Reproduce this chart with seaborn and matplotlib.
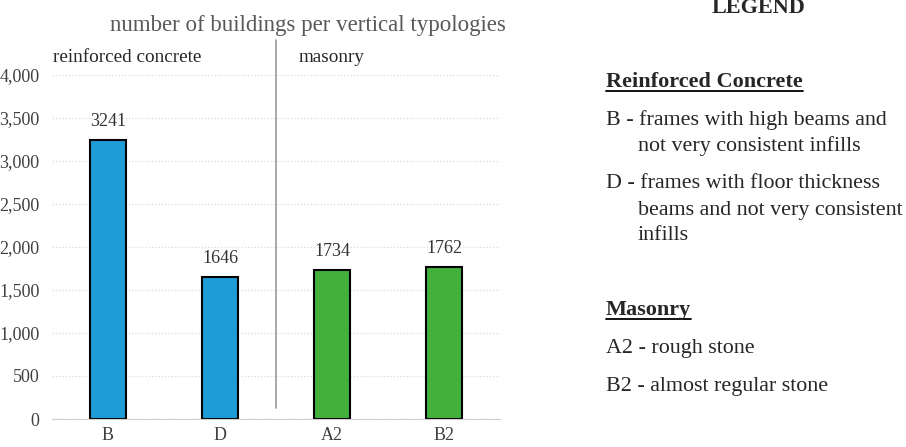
import seaborn as sns
import matplotlib.pyplot as plt
import pandas as pd

# Data
categories = ["B", "D", "A2", "B2"]
counts = [3241, 1646, 1734, 1762]
groups = ["reinforced concrete", "reinforced concrete", "masonry", "masonry"]
group_colors = {"reinforced concrete": "#1E9CD8", "masonry": "#44B03C"}
y_ticks = [0, 500, 1000, 1500, 2000, 2500, 3000, 3500, 4000]

title = "number of buildings per vertical typologies"
legend_lines = [
    ("LEGEND", "head"),
    ("Reinforced Concrete", "sub"),
    ("B - frames with high beams and", "item"),
    ("not very consistent infills", "cont"),
    ("D - frames with floor thickness", "item"),
    ("beams and not very consistent", "cont"),
    ("infills", "cont"),
    ("Masonry", "sub"),
    ("A2 - rough stone", "item"),
    ("B2 - almost regular stone", "item"),
]
legend_y = [8, 82, 120, 146, 184, 210, 235, 310, 348, 386]

sns.set_style("white")
plt.rcParams['font.family'] = ['Liberation Serif', 'DejaVu Serif']

df = pd.DataFrame({"cat": categories, "n": counts, "group": groups})

W, H = 906, 447
fig = plt.figure(figsize=(W / 100, H / 100), dpi=100)
ax = fig.add_axes([52 / W, 1 - 419 / H, 448 / W, 344 / H])

sns.barplot(data=df, x="cat", y="n", hue="group", palette=group_colors,
            dodge=False, width=0.32, edgecolor="black", linewidth=1.5,
            saturation=1, legend=False, ax=ax)

ax.set_xlim(-0.5, 3.5)
ax.set_ylim(0, 4000)
ax.set_yticks(y_ticks)
ax.set_yticklabels([f"{v:,}" for v in y_ticks])
ax.set_xlabel("")
ax.set_ylabel("")
ax.yaxis.grid(True, color="#d9d9d9", linestyle=":", linewidth=0.9)
ax.set_axisbelow(True)
for s in ["left", "right", "top"]:
    ax.spines[s].set_visible(False)
ax.spines["bottom"].set_color("#d0d0d0")
ax.tick_params(axis="both", length=0, labelsize=13, colors="#404040")
ax.tick_params(axis="x", pad=6)
ax.tick_params(axis="y", pad=9)

for i, v in enumerate(counts):
    ax.text(i, v + 120, str(v), ha="center", va="bottom", fontsize=13, color="#333333")

# divider between the two groups
ax.plot([1.5, 1.5], [128, 4410], color="#999999", linewidth=1.2, clip_on=False)
ax.text(-0.49, 4110, "reinforced concrete", ha="left", va="bottom", fontsize=13.8)
ax.text(2.0, 4110, "masonry", ha="center", va="bottom", fontsize=13.8)

fig.text(308 / W, 1 - 25 / H, title, ha="center", va="center",
         fontsize=16.5, color="#595959")

# legend panel as text
fig.canvas.draw()
renderer = fig.canvas.get_renderer()
for (txt, kind), yp in zip(legend_lines, legend_y):
    y = 1 - yp / H
    if kind == "head":
        fig.text(759 / W, y, txt, ha="center", va="center", fontsize=16, fontweight="bold")
    elif kind == "sub":
        t = fig.text(606 / W, y, txt, ha="left", va="center", fontsize=16, fontweight="bold")
        bb = t.get_window_extent(renderer)
        fig.add_artist(plt.Line2D([bb.x0 / W, bb.x1 / W], [(bb.y0 + 1) / H, (bb.y0 + 1) / H],
                                  color="black", linewidth=1.3, transform=fig.transFigure))
    elif kind == "item":
        fig.text(606 / W, y, txt, ha="left", va="center", fontsize=15.8)
    else:
        fig.text(638 / W, y, txt, ha="left", va="center", fontsize=15.8)

fig.savefig("out.png", dpi=100)
